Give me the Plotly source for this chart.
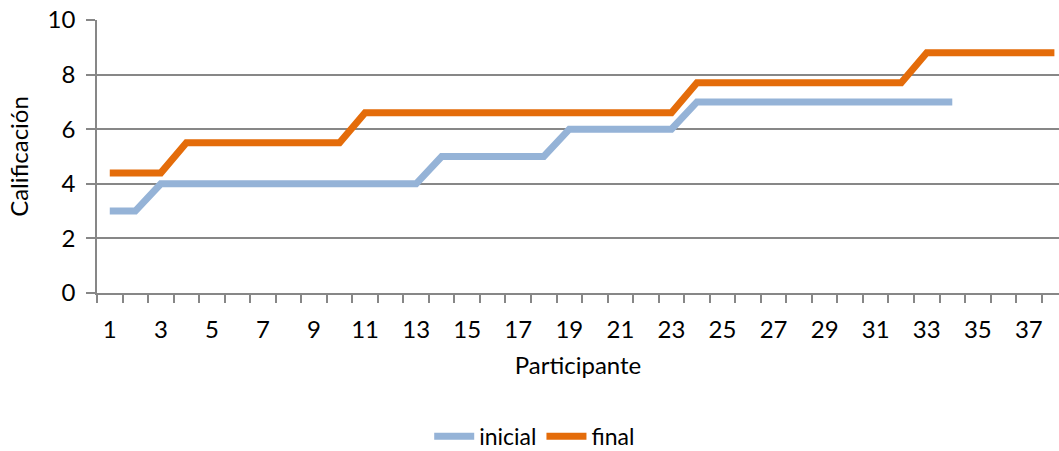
import plotly.graph_objects as go

# Participants and their grades before/after
participante_inicial = list(range(1, 35))
participante_final = list(range(1, 39))

inicial = [3, 3] + [4] * 11 + [5] * 5 + [6] * 5 + [7] * 11
final = [4.4] * 3 + [5.5] * 7 + [6.6] * 13 + [7.7] * 9 + [8.8] * 6

x_labels = list(range(1, 38, 2))
x_cat_bounds = [k + 0.5 for k in range(0, 38)]
y_ticks = list(range(0, 11, 2))

GRID = "#878787"
FONT = "Lato, 'Open Sans', sans-serif"
FS = 24

fig = go.Figure()
fig.add_trace(go.Scatter(
    x=participante_inicial, y=inicial, name="inicial", mode="lines",
    line=dict(color="#95B3D7", width=7),
))
fig.add_trace(go.Scatter(
    x=participante_final, y=final, name="final", mode="lines",
    line=dict(color="#E46C0A", width=7),
))

fig.update_layout(
    width=1059, height=451,
    margin=dict(l=97, r=0, t=20, b=158, autoexpand=False),
    paper_bgcolor="white", plot_bgcolor="white",
    font=dict(family=FONT, size=FS, color="#000000"),
    showlegend=True,
    legend=dict(
        orientation="h", x=0.455, xanchor="center", y=-0.525, yanchor="middle",
        font=dict(size=23), itemwidth=40, tracegroupgap=0,
    ),
)

fig.update_xaxes(
    range=[0.5, 38.18], automargin=False,
    tickmode="array", tickvals=x_labels, ticktext=[str(v) for v in x_labels],
    ticks="", showgrid=False, zeroline=False,
    showline=True, linecolor=GRID, linewidth=1.5,
    ticklabelstandoff=14,
    minor=dict(tickmode="array", tickvals=x_cat_bounds, ticks="outside",
               ticklen=8, tickcolor=GRID, tickwidth=1.5, showgrid=False),
    title=dict(text="Participante", standoff=16, font=dict(size=FS)),
)

fig.update_yaxes(
    range=[0, 10], automargin=False,
    tickmode="array", tickvals=y_ticks,
    ticks="outside", ticklen=9, tickcolor=GRID, tickwidth=1.5,
    showgrid=True, gridcolor=GRID, gridwidth=1.5,
    zeroline=False, showline=True, linecolor=GRID, linewidth=1.5,
    ticklabelstandoff=6,
    title=dict(text="Calificación", standoff=12, font=dict(size=FS)),
)

fig.write_html("out.html")
